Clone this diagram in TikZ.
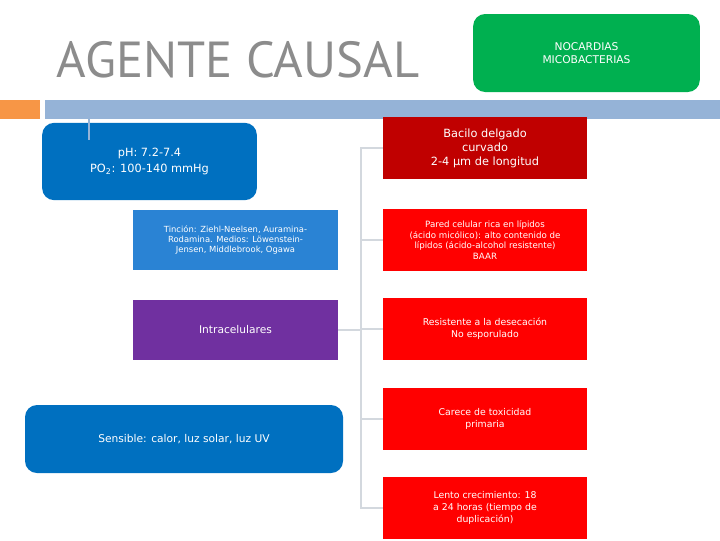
\documentclass[tikz,border=0pt]{standalone}
\usepackage{fontspec}
\setmainfont{DejaVu Sans}
\newfontfamily\titlefont{PT Sans}
\usetikzlibrary{positioning}

\definecolor{slidegreen}{HTML}{00B050}
\definecolor{slideblue}{HTML}{0070C0}
\definecolor{lightblue}{HTML}{2A83D4}
\definecolor{slidepurple}{HTML}{7030A0}
\definecolor{darkred}{HTML}{C00000}
\definecolor{brightred}{HTML}{FF0000}
\definecolor{barblue}{HTML}{95B3D7}
\definecolor{barorange}{HTML}{F79646}
\definecolor{titlegray}{HTML}{8C8C8C}
\definecolor{linkgray}{HTML}{D3D8DE}

\begin{document}
\begin{tikzpicture}[x=0.75pt, y=-0.75pt]
	\tikzstyle{box} = [text=white, align=center, inner sep=2pt, font=\fontsize{8}{10}\selectfont]
	\tikzstyle{round box} = [box, rounded corners=9pt]
	\tikzstyle{red box} = [box, fill=brightred, minimum width=153pt, minimum height=46.5pt]
	\tikzstyle{link} = [draw=linkgray, line width=1.2pt]

	\useasboundingbox[fill=white] (0,0) rectangle (720,540);

	% title and bar
	\node[text=titlegray, font=\titlefont\fontsize{38}{40}\selectfont] (title) at (238,60) {AGENTE CAUSAL};
	\fill[barorange] (0,100) rectangle (40,119);
	\fill[barblue] (45,100) rectangle (720,119);

	\node[round box, fill=slidegreen, minimum width=170pt, minimum height=58.5pt] (green) at (586.5,53)
		{NOCARDIAS\\MICOBACTERIAS};

	% left column
	\node[round box, fill=slideblue, minimum width=161pt, minimum height=58pt, font=\fontsize{8.5}{12}\selectfont] (ph) at (149.5,161.5)
		{pH: 7.2-7.4\\PO\textsubscript{2}: 100-140 mmHg};
	\draw[barblue, line width=2pt] (89,119) -- (89,140);
	\node[box, fill=lightblue, minimum width=154pt, minimum height=45pt, font=\fontsize{6.3}{7.6}\selectfont] (tin) at (235.5,240)
		{Tinción: Ziehl-Neelsen, Auramina-\\Rodamina. Medios: Löwenstein-\\Jensen, Middlebrook, Ogawa};
	\node[box, fill=slidepurple, minimum width=154pt, minimum height=45pt] (intra) at (235.5,330)
		{Intracelulares};
	\node[round box, fill=slideblue, minimum width=238.5pt, minimum height=51pt] (sens) at (184,439)
		{Sensible: calor, luz solar, luz UV};

	% right column
	\node[red box, fill=darkred, font=\fontsize{8.5}{10.5}\selectfont] (r1) at (485,148)
		{Bacilo delgado\\curvado\\2-4 µm de longitud};
	\node[red box, font=\fontsize{6.5}{7.8}\selectfont] (r2) at (485,240)
		{Pared celular rica en lípidos\\(ácido micólico): alto contenido de\\lípidos (ácido-alcohol resistente)\\BAAR};
	\node[red box, font=\fontsize{7}{9}\selectfont] (r3) at (485,329)
		{Resistente a la desecación\\No esporulado};
	\node[red box, font=\fontsize{7}{9}\selectfont] (r4) at (485,419)
		{Carece de toxicidad\\primaria};
	\node[red box, font=\fontsize{7}{9}\selectfont] (r5) at (485,508)
		{Lento crecimiento: 18\\a 24 horas (tiempo de\\duplicación)};

	% connectors
	\coordinate (jn) at (361,330);
	\draw[link] (intra.east) -- (jn);
	\foreach \r in {r1,r2,r3,r4,r5}
		\draw[link] (jn) |- (\r.west);
\end{tikzpicture}
\end{document}
